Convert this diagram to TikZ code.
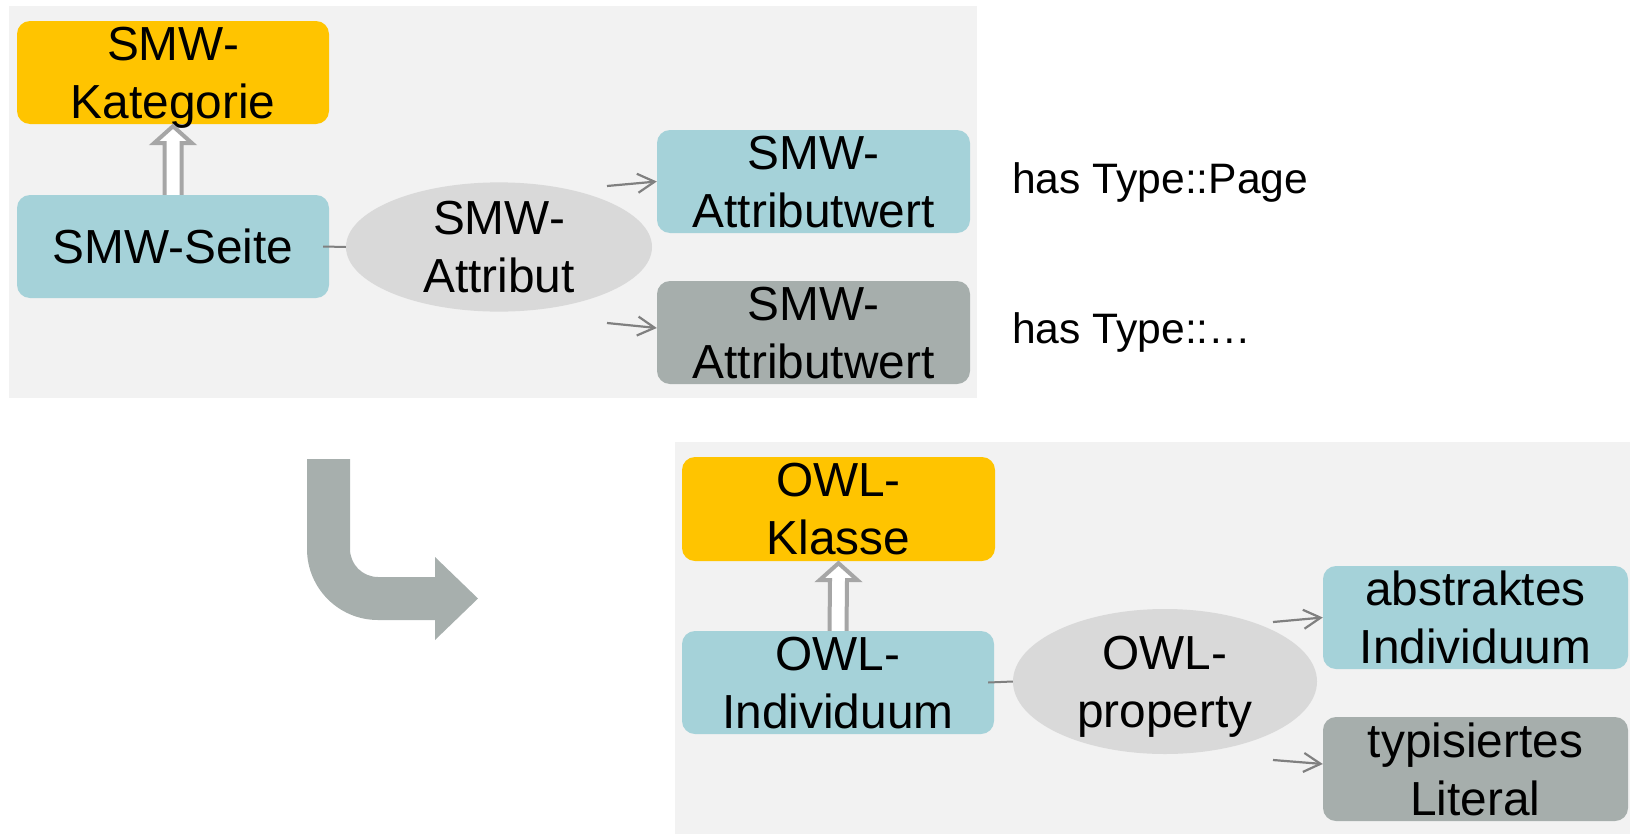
\documentclass[tikz,border=0pt]{standalone}
\usepackage{fontspec}
\setmainfont{Liberation Sans}
\usetikzlibrary{shapes.geometric,arrows.meta,calc}
\definecolor{panelbg}{RGB}{242,242,242}
\definecolor{kyellow}{RGB}{255,196,0}
\definecolor{kblue}{RGB}{165,210,217}
\definecolor{kgray}{RGB}{166,174,172}
\definecolor{kell}{RGB}{217,217,217}
\definecolor{arrgray}{RGB}{128,128,128}
\definecolor{dblgray}{RGB}{166,166,166}
\definecolor{bentgray}{RGB}{167,175,173}
\begin{document}
\begin{tikzpicture}[x=1pt,y=-1pt,
  txt/.style={font=\fontsize{47.8}{58}\selectfont, align=center, inner sep=0pt},
  box/.style={txt, rectangle, rounded corners=13pt, minimum width=312pt, minimum height=103pt},
  catbox/.style={box, fill=kyellow},
  pagebox/.style={box, fill=kblue},
  litbox/.style={box, fill=kgray},
  propell/.style={txt, ellipse, fill=kell},
  link/.style={draw=arrgray, line width=2pt},
  valarrow/.style={draw=arrgray, line width=2.2pt, -{Straight Barb[length=17pt,width=19pt]}},
  subarrow/.style={draw=dblgray, fill=white, line width=4pt, line join=miter},
  note/.style={font=\fontsize{42.6}{50}\selectfont, inner sep=0pt, anchor=base west},
]
\useasboundingbox (0,0) rectangle (1630,835);
% panels
\fill[panelbg] (9,6) rectangle (977,398);
\fill[panelbg] (675,442) rectangle (1630,834);

% top diagram
\node[catbox] (kat) at (173,72.5) {SMW-\\\smash{Kategorie}};
\node[pagebox] (seite) at (173,246.5) {SMW-Seite};
\node[propell, minimum width=306pt, minimum height=126pt] (attr) at (499,247) {SMW-\\\smash{Attribut}};
\node[pagebox, minimum width=313pt] (w1) at (813.5,181.5) {SMW-\\\smash{Attributwert}};
\node[litbox, minimum width=313pt] (w2) at (813.5,332.5) {SMW-\\\smash{Attributwert}};
\node[note] (n1) at (1012,193) {has Type::Page};
\node[note] (n2) at (1012,343) {has Type::…};

\path[subarrow] ($(seite.north)+(-8.5,0)$) -- ($(kat.south)+(-8.5,19)$) -- ($(kat.south)+(-19,19)$) -- ($(kat.south)+(0,2)$) -- ($(kat.south)+(19,19)$) -- ($(kat.south)+(8.5,19)$) -- ($(seite.north)+(8.5,0)$);
\draw[link] ($(seite.east)+(-6,0)$) -- (attr.west);
\coordinate (a1s) at (607,186);
\coordinate (a2s) at (607,323);
\draw[valarrow] (a1s) -- (w1.west);
\draw[valarrow] (a2s) -- ($(w2.west)+(0,-4.5)$);

% bent arrow
\fill[bentgray] (307,459) -- (350,459) -- (350,549) arc[start angle=180, end angle=90, radius=28] -- (435,577) -- (435,557) -- (478,598.5) -- (435,640) -- (435,620) -- (378,620) arc[start angle=90, end angle=180, radius=71] -- cycle;

% bottom diagram
\node[catbox, minimum width=313pt, minimum height=104pt] (klasse) at (838.5,509) {OWL-\\\smash{Klasse}};
\node[pagebox] (ind) at (838,682.5) {OWL-\\\smash{Individuum}};
\node[propell, minimum width=304pt, minimum height=145pt] (prop) at (1165,681.5) {OWL-\\\smash{property}};
\node[pagebox, minimum width=305pt] (abs) at (1475.5,617.5) {abstraktes\\\smash{Individuum}};
\node[litbox, minimum width=305pt, minimum height=104pt] (lit) at (1475.5,769) {typisiertes\\\smash{Literal}};

\path[subarrow] ($(ind.north)+(-8.5,0)$) -- ($(klasse.south)+(-8.5,19)$) -- ($(klasse.south)+(-19,19)$) -- ($(klasse.south)+(0,2)$) -- ($(klasse.south)+(19,19)$) -- ($(klasse.south)+(8.5,19)$) -- ($(ind.north)+(8.5,0)$);
\draw[link] ($(ind.east)+(-6,0)$) -- (prop.west);
\coordinate (a3s) at (1273,622);
\coordinate (a4s) at (1273,760);
\draw[valarrow] (a3s) -- (abs.west);
\draw[valarrow] (a4s) -- ($(lit.west)+(0,-5)$);
\end{tikzpicture}
\end{document}
